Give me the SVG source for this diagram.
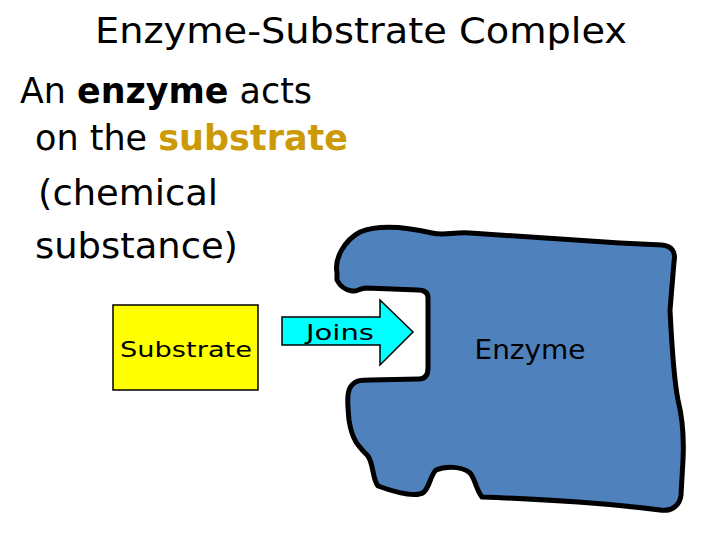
<svg xmlns="http://www.w3.org/2000/svg" width="720" height="540" viewBox="0 0 720 540">
<style>
  text { font-family: "DejaVu Sans", "Liberation Sans", sans-serif; fill: #000; }
  .big { font-size: 35px; }
  .lbl { font-size: 22px; }
  .em { font-weight: bold; }
  .gold { fill: #CC9A06; font-weight: bold; }
</style>
<rect width="720" height="540" fill="#fff"/>
<text class="big" x="95" y="43" textLength="532" lengthAdjust="spacingAndGlyphs">Enzyme-Substrate Complex</text>
<text class="big" x="20" y="103" textLength="292" lengthAdjust="spacingAndGlyphs">An <tspan class="em">enzyme</tspan> acts</text>
<text class="big" x="35" y="150" textLength="313" lengthAdjust="spacingAndGlyphs">on the <tspan class="gold">substrate</tspan></text>
<text class="big" x="38" y="205" textLength="180" lengthAdjust="spacingAndGlyphs">(chemical</text>
<text class="big" x="35" y="258" textLength="203" lengthAdjust="spacingAndGlyphs">substance)</text>
<g id="enzyme">
  <path d="M337,273 C334,258 345,240 360,232 C380,224 410,228 432,233 C445,236 452,232 470,233 L620,243 L662,245 C672,246 676,252 674,262 L670,310 C672,350 674,380 678,400 C683,420 684,440 683,460 L681,495 C680,505 672,512 660,510 C620,505 560,500 482,497 C476,490 475,478 470,473 C462,466 445,466 436,470 C430,476 430,486 424,492 C418,497 400,494 378,486 C372,478 374,465 368,456 C358,446 352,440 349,420 C347,400 347,390 352,385 C356,380 362,380 370,380 L419,379 C425,379 428,375 428,368 L428,298 C428,292 424,290 418,290 L366,288 C360,288 357,292 352,291 C345,290 340,286 337,280 Z" fill="#4F81BD" stroke="#000" stroke-width="5" stroke-linejoin="round"/>
  <text x="530" y="359" text-anchor="middle" font-size="27" textLength="111" lengthAdjust="spacingAndGlyphs">Enzyme</text>
</g>
<g id="substrate">
  <rect x="113" y="305" width="145" height="85" fill="#FFFF00" stroke="#000" stroke-width="1.5"/>
  <text class="lbl" x="186" y="357" text-anchor="middle" textLength="132" lengthAdjust="spacingAndGlyphs">Substrate</text>
</g>
<g id="connectors">
  <path d="M282,317 L380,317 L380,300 L413,332 L380,365 L380,345 L282,345 Z" fill="#00FFFF" stroke="#000" stroke-width="1.5" stroke-linejoin="miter"/>
  <text class="lbl" x="340" y="340" text-anchor="middle" textLength="68" lengthAdjust="spacingAndGlyphs">Joins</text>
</g>
</svg>
